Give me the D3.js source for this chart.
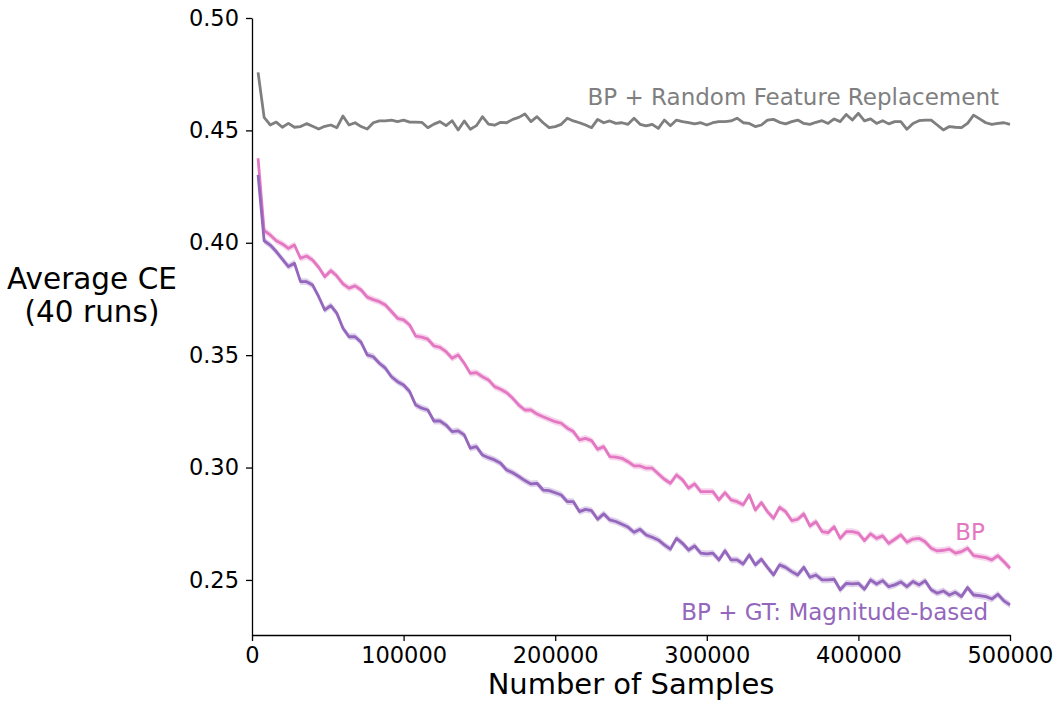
<!DOCTYPE html>
<html lang="en">
<head>
    <meta charset="UTF-8">
    <title>Average CE vs Number of Samples</title>
    <script src="https://d3js.org/d3.v7.min.js"></script>
    <style>
        body {
            margin: 0;
            background-color: white;
        }
        svg {
            display: block;
            font-family: "DejaVu Sans", sans-serif;
        }
    </style>
</head>
<body>

<svg id="chart" width="1056" height="702"></svg>
<script>
    // samples are evaluated every 4000 steps
    const step = 4000;
    const samples = d3.range(step, 500000 + 1, step);

    const randomReplacement = [
        0.4758, 0.4558, 0.4524, 0.4537, 0.4514, 0.4531, 0.4514, 0.4517, 0.4530, 0.4518,
        0.4506, 0.4518, 0.4524, 0.4512, 0.4564, 0.4524, 0.4534, 0.4517, 0.4506, 0.4534,
        0.4542, 0.4542, 0.4546, 0.4539, 0.4546, 0.4537, 0.4537, 0.4536, 0.4512, 0.4528,
        0.4539, 0.4521, 0.4543, 0.4502, 0.4542, 0.4505, 0.4521, 0.4561, 0.4528, 0.4523,
        0.4536, 0.4534, 0.4549, 0.4558, 0.4573, 0.4539, 0.4561, 0.4534, 0.4512, 0.4517,
        0.4527, 0.4554, 0.4542, 0.4534, 0.4524, 0.4512, 0.4549, 0.4534, 0.4542, 0.4531,
        0.4534, 0.4527, 0.4554, 0.4527, 0.4520, 0.4527, 0.4509, 0.4546, 0.4521, 0.4546,
        0.4539, 0.4534, 0.4529, 0.4534, 0.4524, 0.4534, 0.4539, 0.4539, 0.4542, 0.4554,
        0.4534, 0.4531, 0.4517, 0.4524, 0.4546, 0.4549, 0.4536, 0.4529, 0.4539, 0.4546,
        0.4531, 0.4527, 0.4536, 0.4543, 0.4531, 0.4551, 0.4539, 0.4571, 0.4546, 0.4576,
        0.4542, 0.4551, 0.4531, 0.4543, 0.4529, 0.4539, 0.4539, 0.4505, 0.4531, 0.4543,
        0.4546, 0.4546, 0.4524, 0.4502, 0.4517, 0.4514, 0.4512, 0.4531, 0.4568, 0.4551,
        0.4534, 0.4527, 0.4531, 0.4534, 0.4527
    ];

    const bp = [
        0.4376, 0.4054, 0.4035, 0.4009, 0.3995, 0.3975, 0.3990, 0.3931, 0.3941, 0.3923,
        0.3891, 0.3849, 0.3876, 0.3852, 0.3817, 0.3798, 0.3808, 0.3790, 0.3758, 0.3747,
        0.3738, 0.3723, 0.3694, 0.3664, 0.3657, 0.3634, 0.3585, 0.3580, 0.3571, 0.3541,
        0.3535, 0.3516, 0.3486, 0.3501, 0.3464, 0.3419, 0.3422, 0.3404, 0.3390, 0.3360,
        0.3348, 0.3333, 0.3308, 0.3278, 0.3256, 0.3256, 0.3238, 0.3226, 0.3215, 0.3204,
        0.3197, 0.3175, 0.3160, 0.3123, 0.3130, 0.3120, 0.3081, 0.3093, 0.3049, 0.3046,
        0.3041, 0.3026, 0.3007, 0.3007, 0.2997, 0.2997, 0.2972, 0.2948, 0.2930, 0.2967,
        0.2945, 0.2908, 0.2927, 0.2893, 0.2893, 0.2893, 0.2856, 0.2888, 0.2856, 0.2848,
        0.2834, 0.2878, 0.2811, 0.2844, 0.2804, 0.2774, 0.2823, 0.2804, 0.2764, 0.2770,
        0.2794, 0.2740, 0.2759, 0.2715, 0.2710, 0.2737, 0.2685, 0.2715, 0.2715, 0.2708,
        0.2675, 0.2705, 0.2685, 0.2696, 0.2663, 0.2681, 0.2700, 0.2668, 0.2682, 0.2685,
        0.2670, 0.2641, 0.2629, 0.2632, 0.2637, 0.2619, 0.2626, 0.2641, 0.2608, 0.2604,
        0.2599, 0.2589, 0.2608, 0.2581, 0.2552
    ];

    const bpMagnitude = [
        0.4302, 0.4009, 0.3990, 0.3961, 0.3927, 0.3894, 0.3909, 0.3827, 0.3827, 0.3812,
        0.3760, 0.3701, 0.3720, 0.3686, 0.3620, 0.3582, 0.3582, 0.3557, 0.3501, 0.3493,
        0.3464, 0.3442, 0.3404, 0.3382, 0.3367, 0.3338, 0.3278, 0.3264, 0.3256, 0.3207,
        0.3207, 0.3189, 0.3160, 0.3163, 0.3145, 0.3086, 0.3093, 0.3056, 0.3044, 0.3034,
        0.3019, 0.2989, 0.2977, 0.2960, 0.2942, 0.2927, 0.2930, 0.2900, 0.2897, 0.2888,
        0.2878, 0.2848, 0.2848, 0.2804, 0.2814, 0.2808, 0.2770, 0.2794, 0.2767, 0.2760,
        0.2748, 0.2735, 0.2712, 0.2725, 0.2700, 0.2690, 0.2678, 0.2656, 0.2637, 0.2685,
        0.2663, 0.2633, 0.2651, 0.2619, 0.2616, 0.2619, 0.2589, 0.2630, 0.2589, 0.2589,
        0.2571, 0.2611, 0.2567, 0.2592, 0.2556, 0.2522, 0.2567, 0.2556, 0.2537, 0.2522,
        0.2556, 0.2512, 0.2522, 0.2500, 0.2500, 0.2503, 0.2456, 0.2485, 0.2482, 0.2485,
        0.2459, 0.2500, 0.2482, 0.2497, 0.2470, 0.2478, 0.2491, 0.2470, 0.2493, 0.2478,
        0.2496, 0.2456, 0.2441, 0.2451, 0.2433, 0.2445, 0.2426, 0.2466, 0.2433, 0.2430,
        0.2426, 0.2415, 0.2436, 0.2407, 0.2389
    ];

    // half width of the shaded band (standard error) per series
    const bandErr = [0.0005, 0.0015, 0.0015];

    const seriesNames = ["BP + Random Feature Replacement", "BP", "BP + GT: Magnitude-based"];
    const seriesValues = [randomReplacement, bp, bpMagnitude];
    const seriesColors = ["#7f7f7f", "#e377c2", "#9467bd"];

    const xTicks = [0, 100000, 200000, 300000, 400000, 500000];
    const yTicks = [0.25, 0.30, 0.35, 0.40, 0.45, 0.50];

    const svg = d3.select("#chart");

    const x = d3.scaleLinear()
        .domain([0, 500000])
        .range([252, 1010]);

    const y = d3.scaleLinear()
        .domain([0.2255, 0.5])
        .range([635, 18]);

    const series = seriesNames.map((name, i) => ({
        name: name,
        color: seriesColors[i],
        err: bandErr[i],
        points: samples.map((s, j) => ({x: s, y: seriesValues[i][j]}))
    }));

    const area = d3.area()
        .x(d => x(d.x))
        .y0(d => y(d.y - d.err))
        .y1(d => y(d.y + d.err));

    const line = d3.line()
        .x(d => x(d.x))
        .y(d => y(d.y));

    const plot = svg.append("g");

    series.forEach(s => {
        plot.append("path")
            .datum(s.points.map(p => ({x: p.x, y: p.y, err: s.err})))
            .attr("fill", s.color)
            .attr("fill-opacity", 0.3)
            .attr("d", area);

        plot.append("path")
            .datum(s.points)
            .attr("fill", "none")
            .attr("stroke", s.color)
            .attr("stroke-width", 2.8)
            .attr("stroke-linejoin", "round")
            .attr("d", line);
    });

    // axes
    const xAxis = svg.append("g")
        .attr("transform", `translate(0,${y.range()[0]})`)
        .call(d3.axisBottom(x)
            .tickValues(xTicks)
            .tickFormat(d3.format("d"))
            .tickSize(6)
            .tickSizeOuter(0)
            .tickPadding(6));

    const yAxis = svg.append("g")
        .attr("transform", `translate(${x.range()[0]},0)`)
        .call(d3.axisLeft(y)
            .tickValues(yTicks)
            .tickFormat(d3.format(".2f"))
            .tickSize(6)
            .tickSizeOuter(0)
            .tickPadding(7));

    [xAxis, yAxis].forEach(a => {
        a.select(".domain").attr("stroke-width", 1.3);
        a.selectAll(".tick line").attr("stroke-width", 1.3);
        a.selectAll(".tick text")
            .attr("fill", "black")
            .style("font-family", "'DejaVu Sans', sans-serif")
            .style("font-size", "22.5px");
    });

    // axis titles
    svg.append("text")
        .attr("x", 631)
        .attr("y", 694)
        .attr("text-anchor", "middle")
        .style("font-size", "29px")
        .text("Number of Samples");

    const yTitle = svg.append("text")
        .attr("text-anchor", "middle")
        .style("font-size", "29.5px");
    yTitle.append("tspan").attr("x", 92).attr("y", 289).text("Average CE");
    yTitle.append("tspan").attr("x", 92).attr("y", 322).text("(40 runs)");

    // inline series labels
    const labelPos = [
        {x: 999, y: 105},
        {x: 985, y: 540},
        {x: 988, y: 620}
    ];

    series.forEach((s, i) => {
        svg.append("text")
            .attr("x", labelPos[i].x)
            .attr("y", labelPos[i].y)
            .attr("text-anchor", "end")
            .attr("fill", s.color)
            .style("font-size", "23px")
            .text(s.name);
    });
</script>
</body>
</html>
